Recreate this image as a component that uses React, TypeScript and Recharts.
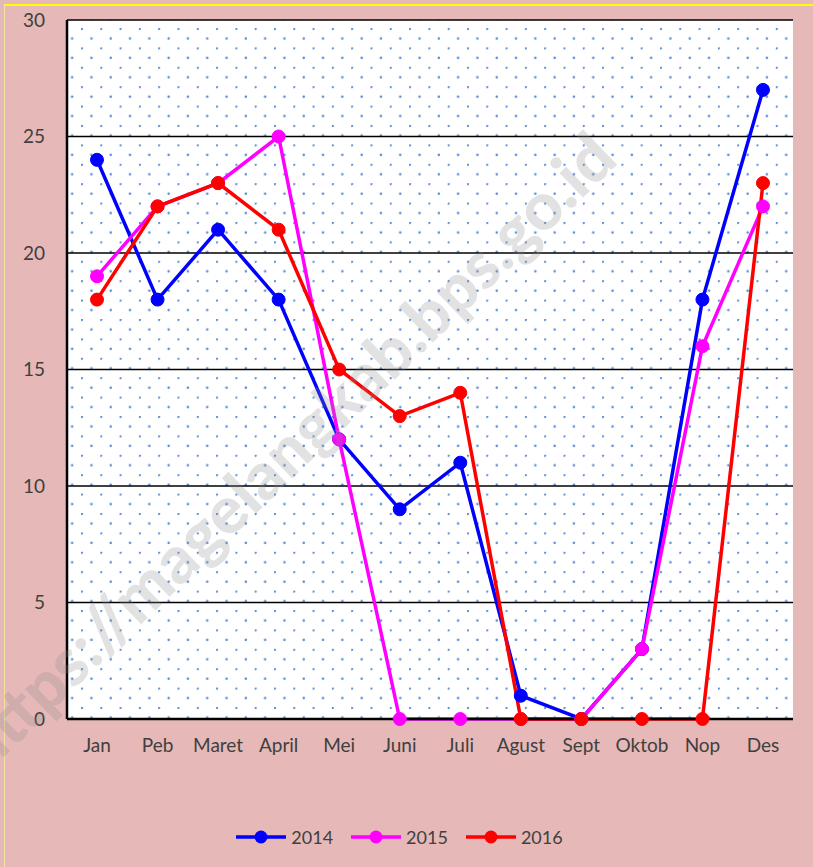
import React from "react"
import { LineChart, Line, XAxis, YAxis, CartesianGrid, Legend } from "recharts"

const months = ["Jan", "Peb", "Maret", "April", "Mei", "Juni", "Juli", "Agust", "Sept", "Oktob", "Nop", "Des"]
const y2014 = [24, 18, 21, 18, 12, 9, 11, 1, 0, 3, 18, 27]
const y2015 = [19, 22, 23, 25, 12, 0, 0, 0, 0, 3, 16, 22]
const y2016 = [18, 22, 23, 21, 15, 13, 14, 0, 0, 0, 0, 23]
const yTicks = [0, 5, 10, 15, 20, 25, 30]

const series = [
  { key: "2014", color: "#0000ff" },
  { key: "2015", color: "#ff00ff" },
  { key: "2016", color: "#ff0000" },
]

const data = months.map((m, i) => ({
  name: m,
  "2014": y2014[i],
  "2015": y2015[i],
  "2016": y2016[i],
}))

const font = "Lato, 'Open Sans', sans-serif"

function LegendContent() {
  return (
    <div style={{ display: "flex", justifyContent: "center", alignItems: "center", height: 40, fontFamily: font, fontSize: 18, color: "#404040", paddingLeft: 6 }}>
      {series.map((s) => (
        <div key={s.key} style={{ display: "flex", alignItems: "center", margin: "0 9px" }}>
          <svg width={50} height={16}>
            <line x1={0} y1={8} x2={50} y2={8} stroke={s.color} strokeWidth={3.5} />
            <circle cx={25} cy={8} r={6.5} fill={s.color} />
          </svg>
          <span style={{ marginLeft: 5 }}>{s.key}</span>
        </div>
      ))}
    </div>
  )
}

export default function App() {
  return (
    <div style={{ position: "absolute", left: 0, top: 0, width: 813, height: 867, background: "#e6b8b7", overflow: "hidden" }}>
      <div style={{ position: "absolute", left: 5, top: 4, right: 0, height: 2, background: "#ffff00" }} />
      <div style={{ position: "absolute", left: 4, top: 4, width: 1, bottom: 0, background: "#f2e3a0" }} />
      <LineChart width={813} height={867} data={data} margin={{ top: 20, right: 20, left: 0, bottom: 10 }} style={{ position: "absolute", left: 0, top: 0 }}>
        <defs>
          <pattern id="dots" patternUnits="userSpaceOnUse" x={81} y={28} width={19.3} height={19.4}>
            <rect width={19.3} height={19.4} fill="#ffffff" />
            <circle cx={0.8} cy={0.8} r={1.3} fill="#5b8fd8" />
            <circle cx={10.45} cy={10.5} r={1.3} fill="#5b8fd8" />
          </pattern>
        </defs>
        <CartesianGrid vertical={false} stroke="#000000" strokeWidth={1.5} fill="url(#dots)" fillOpacity={1} />
        <XAxis
          dataKey="name"
          height={98}
          padding={{ left: 30, right: 30 }}
          axisLine={{ stroke: "#000000", strokeWidth: 2.5 }}
          tickLine={false}
          tickSize={0}
          tickMargin={20}
          interval={0}
          tick={{ fill: "#404040", fontSize: 19, fontFamily: font }}
        />
        <YAxis
          domain={[0, 30]}
          ticks={yTicks}
          width={67}
          axisLine={{ stroke: "#000000", strokeWidth: 2.5 }}
          tickLine={false}
          tickSize={0}
          tickMargin={22}
          tick={{ fill: "#404040", fontSize: 19, fontFamily: font }}
        />
        <YAxis yAxisId="r" orientation="right" width={0} tick={false} tickLine={false} axisLine={{ stroke: "#000000", strokeWidth: 2.5 }} />
        {series.map((s) => (
          <Line
            key={s.key}
            dataKey={s.key}
            stroke={s.color}
            strokeWidth={3.5}
            dot={{ r: 6.5, fill: s.color, stroke: s.color, strokeWidth: 1 }}
            activeDot={false}
            isAnimationActive={false}
          />
        ))}
        <Legend verticalAlign="bottom" height={40} content={<LegendContent />} />
      </LineChart>
      <div
        style={{
          position: "absolute",
          left: 285,
          top: 450,
          transform: "translate(-50%, -50%) rotate(-44deg)",
          whiteSpace: "nowrap",
          fontFamily: font,
          fontWeight: 900,
          fontSize: 66,
          color: "rgba(140,140,140,0.25)",
          pointerEvents: "none",
        }}
      >
        https://magelangkab.bps.go.id
      </div>
    </div>
  )
}
